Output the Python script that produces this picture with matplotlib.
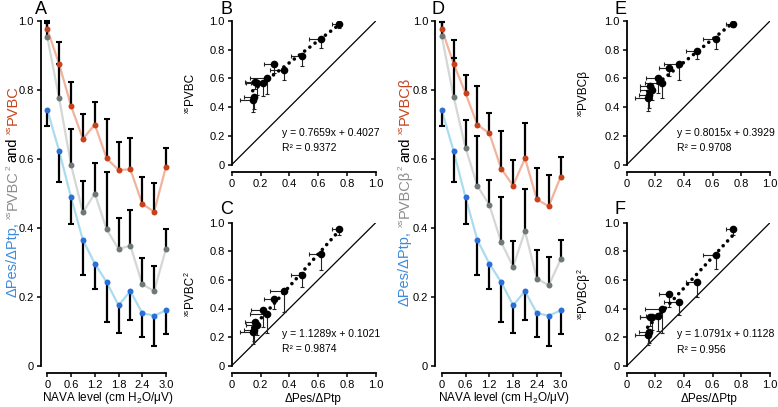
import numpy as np
import matplotlib.pyplot as plt

plt.rcParams['font.family'] = ['Liberation Sans', 'DejaVu Sans']
plt.rcParams['mathtext.fontset'] = 'custom'
plt.rcParams['mathtext.rm'] = 'Liberation Sans'
plt.rcParams['mathtext.it'] = 'Liberation Sans:italic'
plt.rcParams['mathtext.bf'] = 'Liberation Sans:bold'

# -----------
# values
# -----------
nava = [0, 0.3, 0.6, 0.9, 1.2, 1.5, 1.8, 2.1, 2.4, 2.7, 3.0]

# dPes/dPtp (blue), error drawn downwards
ratio = [0.742, 0.623, 0.489, 0.365, 0.297, 0.243, 0.176, 0.217, 0.153, 0.146, 0.161]
ratio_sd = [0.046, 0.089, 0.077, 0.102, 0.075, 0.115, 0.080, 0.085, 0.070, 0.089, 0.067]

# panel A, errors drawn upwards
pvbc = [0.976, 0.875, 0.754, 0.658, 0.700, 0.602, 0.568, 0.570, 0.470, 0.447, 0.578]
pvbc_sd = [0.023, 0.063, 0.069, 0.071, 0.064, 0.113, 0.081, 0.092, 0.079, 0.083, 0.054]
pvbc2 = [0.953, 0.776, 0.583, 0.445, 0.500, 0.396, 0.339, 0.349, 0.237, 0.217, 0.340]
pvbc2_sd = [0.040, 0.100, 0.103, 0.090, 0.088, 0.165, 0.090, 0.102, 0.076, 0.072, 0.058]

# panel D
pvbcb = [0.978, 0.876, 0.791, 0.699, 0.675, 0.572, 0.523, 0.602, 0.483, 0.463, 0.549]
pvbcb_sd = [0.018, 0.069, 0.052, 0.113, 0.057, 0.108, 0.073, 0.101, 0.090, 0.091, 0.056]
pvbcb2 = [0.957, 0.781, 0.633, 0.522, 0.467, 0.359, 0.288, 0.391, 0.253, 0.234, 0.309]
pvbcb2_sd = [0.040, 0.113, 0.080, 0.145, 0.071, 0.132, 0.073, 0.122, 0.083, 0.082, 0.056]

# regression lines of B, C, E, F
fit_slope = [0.7659, 1.1289, 0.8015, 1.0791]
fit_icpt = [0.4027, 0.1021, 0.3929, 0.1128]
fit_r2 = ['0.9372', '0.9874', '0.9708', '0.956']

nava_ticks = [0, 0.6, 1.2, 1.8, 2.4, 3.0]
nava_ticklabels = ['0', '0.6', '1.2', '1.8', '2.4', '3.0']
unit_ticks = [0, 0.2, 0.4, 0.6, 0.8, 1.0]
unit_ticklabels = ['0', '0.2', '0.4', '0.6', '0.8', '1.0']

RED, RED_L = '#c8411b', '#f2b39c'
GRAY, GRAY_L = '#6f7a78', '#d4d7d6'
BLUE, BLUE_L = '#2b6fd8', '#aadcef'
BLUE_T, GRAY_T, RED_T = '#3d8bdc', '#8c8c8c', '#c4451f'

W, H = 778, 407
fig = plt.figure(figsize=(W / 100, H / 100), dpi=100)


def px_axes(x0, x1, ytop, ybot):
    return fig.add_axes([x0 / W, 1 - ybot / H, (x1 - x0) / W, (ybot - ytop) / H])


def style(ax, xticks, xlabels, xmax, left_off):
    for s in ['top', 'right']:
        ax.spines[s].set_visible(False)
    ax.spines['left'].set_position(('outward', left_off))
    ax.spines['bottom'].set_position(('outward', 5))
    ax.spines['left'].set_bounds(0, 1)
    ax.spines['bottom'].set_bounds(0, xmax)
    for s in ['left', 'bottom']:
        ax.spines[s].set_linewidth(1.3)
    ax.set_xlim(0, xmax)
    ax.set_ylim(0, 1)
    ax.set_xticks(xticks)
    ax.set_xticklabels(xlabels)
    ax.set_yticks(unit_ticks)
    ax.set_yticklabels(unit_ticklabels)
    ax.tick_params(direction='out', length=3, width=1.1, labelsize=8, pad=2)
    ax.patch.set_visible(False)


def nava_panel(ax, series):
    for vals, sd, dot_c, line_c, up in series:
        ax.plot(nava, vals, color=line_c, lw=1.6, zorder=1, clip_on=False)
    for vals, sd, dot_c, line_c, up in series:
        v = np.array(vals)
        ends = v + np.array(sd) if up else v - np.array(sd)
        ax.vlines(nava, v, ends, color='black', lw=1.6, zorder=2, clip_on=False)
        ax.plot(nava, ends, ls='none', marker='_', ms=5, mew=1.5,
                color='black', zorder=2, clip_on=False)
    for vals, sd, dot_c, line_c, up in series:
        ax.plot(nava, vals, ls='none', marker='o', ms=4.3, color=dot_c,
                mec='none', zorder=3, clip_on=False)
    style(ax, nava_ticks, nava_ticklabels, 3.0, 4.7)


def scatter_panel(ax, xv, xsd, yv, ysd, k):
    x = np.array(xv)
    y = np.array(yv)
    ax.plot([0, 1], [0, 1], color='black', lw=0.9)
    xl = x - np.array(xsd)
    yl = y - np.array(ysd)
    ax.hlines(y, xl, x, color='#222222', lw=0.8)
    ax.plot(xl, y, ls='none', marker='|', ms=3.5, mew=0.8, color='#222222')
    ax.vlines(x, yl, y, color='#222222', lw=0.8)
    ax.plot(x, yl, ls='none', marker='_', ms=3.5, mew=0.8, color='#222222')
    ax.plot(x, y, ls='none', marker='o', ms=5.5, color='black', mec='none', zorder=3)
    fx = np.array([x.min(), x.max()])
    ax.plot(fx, fit_slope[k] * fx + fit_icpt[k], color='black', lw=2.6,
            ls=(0, (0.01, 1.8)), dash_capstyle='round', zorder=4)
    ax.text(0.35, 0.22, 'y = %.4fx + %.4f' % (fit_slope[k], fit_icpt[k]),
            fontsize=7.5, va='center')
    ax.text(0.35, 0.115, 'R² = ' + fit_r2[k], fontsize=7.5, va='center')
    style(ax, unit_ticks, unit_ticklabels, 1.0, 0)


def stacked_label(xr, yc, parts):
    # rotated label from pieces (text, colour, size, raise px, gap px), bottom to top
    r = fig.canvas.get_renderer()
    texts = [fig.text(0, 0, p[0], color=p[1], fontsize=p[2], rotation=90,
                      ha='right', va='bottom') for p in parts]
    hs = [t.get_window_extent(r).height for t in texts]
    total = sum(hs) + sum(p[4] for p in parts)
    y = yc - total / 2
    for t, h, p in zip(texts, hs, parts):
        y += p[4]
        t.set_position(((xr - p[3]) / W, y / H))
        y += h


axA = px_axes(47.3, 166, 21, 366)
axD = px_axes(441.7, 560.7, 21, 366)
axB = px_axes(231.7, 375.7, 21, 164.7)
axC = px_axes(231.7, 375.7, 222.7, 365.7)
axE = px_axes(626.7, 770, 21, 164.7)
axF = px_axes(626.7, 770, 222.7, 366)

nava_panel(axA, [(ratio, ratio_sd, BLUE, BLUE_L, False),
                 (pvbc2, pvbc2_sd, GRAY, GRAY_L, True),
                 (pvbc, pvbc_sd, RED, RED_L, True)])
nava_panel(axD, [(ratio, ratio_sd, BLUE, BLUE_L, False),
                 (pvbcb2, pvbcb2_sd, GRAY, GRAY_L, True),
                 (pvbcb, pvbcb_sd, RED, RED_L, True)])

scatter_panel(axB, ratio, ratio_sd, pvbc, pvbc_sd, 0)
scatter_panel(axC, ratio, ratio_sd, pvbcb2, pvbcb2_sd, 1)
scatter_panel(axE, ratio, ratio_sd, pvbcb, pvbcb_sd, 2)
scatter_panel(axF, ratio, ratio_sd, pvbc2, pvbc2_sd, 3)

# axis labels
fig.text(108 / W, 1 - 398 / H, 'NAVA level (cm H$_2$O/μV)', fontsize=8.5,
         ha='center', va='center')
fig.text(504 / W, 1 - 398 / H, 'NAVA level (cm H$_2$O/μV)', fontsize=8.5,
         ha='center', va='center')
fig.text(313 / W, 1 - 399 / H, 'ΔPes/ΔPtp', fontsize=8.5, ha='center', va='center')
fig.text(709 / W, 1 - 399 / H, 'ΔPes/ΔPtp', fontsize=8.5, ha='center', va='center')

for xr, sym in [(19.5, ''), (412, 'β')]:
    stacked_label(xr, H - 191, [('ΔPes/ΔPtp,', BLUE_T, 10.5, 0, 0),
                                ('xs', GRAY_T, 6, 7, 3.5),
                                ('PVBC' + sym, GRAY_T, 10.5, 0, 0.5),
                                ('2', GRAY_T, 6, 7, 0.5),
                                ('and', 'black', 10.5, 0, 3.5),
                                ('xs', RED_T, 6, 7, 3.5),
                                ('PVBC' + sym, RED_T, 10.5, 0, 0.5)])

for xr, yc, sym, sq in [(196, 93, '', False), (196, 294, '', True),
                        (589, 93, 'β', False), (589, 294, 'β', True)]:
    parts = [('xs', 'black', 5, 5.5, 0), ('PVBC' + sym, 'black', 8.5, 0, 0.3)]
    if sq:
        parts.append(('2', 'black', 5, 5.5, 0.3))
    stacked_label(xr, H - yc, parts)

# panel letters
for x, y, s in [(41, 9, 'A'), (227, 9, 'B'), (227, 209, 'C'),
                (438, 9, 'D'), (621, 9, 'E'), (620, 209, 'F')]:
    fig.text(x / W, 1 - y / H, s, fontsize=13, ha='center', va='center')

plt.savefig('out.png', dpi=100)
